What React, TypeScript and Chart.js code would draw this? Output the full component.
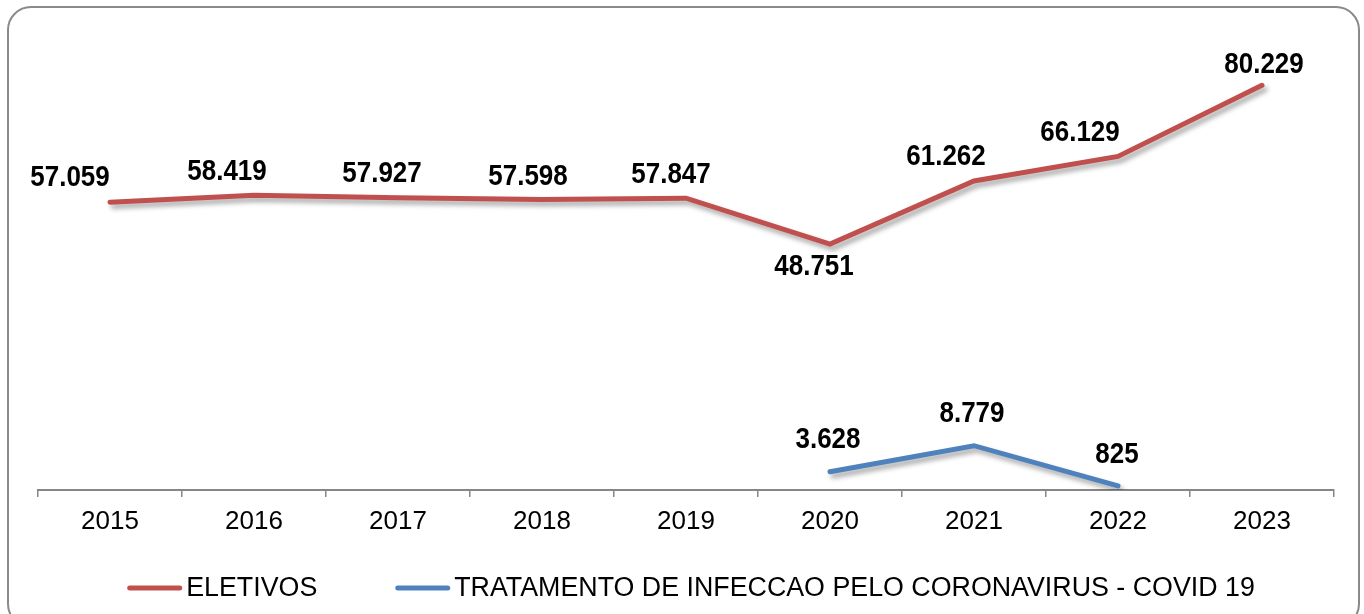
import React, { useEffect, useRef } from "react";
import { Chart, registerables } from "chart.js";

Chart.register(...registerables);

const years = ["2015", "2016", "2017", "2018", "2019", "2020", "2021", "2022", "2023"];
const eletivos = [57059, 58419, 57927, 57598, 57847, 48751, 61262, 66129, 80229];
const covid = [null, null, null, null, null, 3628, 8779, 825, null];
const seriesNames = ["ELETIVOS", "TRATAMENTO DE INFECCAO PELO CORONAVIRUS - COVID 19"];
const seriesColors = ["#C0504D", "#4F81BD"];

const FONT = '"Liberation Sans", Arial, Helvetica, sans-serif';

// label offsets (styling only) relative to each point, in px
const labelOffsets: [number, number][][] = [
  [[-40, -24], [-27, -23], [-16, -24], [-14, -22], [-15, -23], [-16, 23], [-28, -24], [-38, -23], [2, -20]],
  [[0, 0], [0, 0], [0, 0], [0, 0], [0, 0], [-2, -32], [-2, -32], [-1, -31], [0, 0]],
];

function fmt(v: number): string {
  return String(Math.round(v)).replace(/\B(?=(\d{3})+(?!\d))/g, ".");
}

const shadowPlugin = {
  id: "lineShadow",
  beforeDatasetDraw(chart: any) {
    const ctx = chart.ctx;
    ctx.save();
    ctx.shadowColor = "rgba(0,0,0,0.35)";
    ctx.shadowBlur = 5;
    ctx.shadowOffsetX = 3;
    ctx.shadowOffsetY = 4;
  },
  afterDatasetDraw(chart: any) {
    chart.ctx.restore();
  },
};

const labelPlugin = {
  id: "valueLabels",
  afterDatasetsDraw(chart: any) {
    const ctx = chart.ctx;
    chart.data.datasets.forEach((ds: any, di: number) => {
      const meta = chart.getDatasetMeta(di);
      meta.data.forEach((pt: any, i: number) => {
        const v = ds.data[i];
        if (v === null || v === undefined) return;
        const off = labelOffsets[di][i];
        ctx.save();
        ctx.font = `bold 26px ${FONT}`;
        ctx.fillStyle = "#000";
        ctx.textAlign = "center";
        ctx.textBaseline = "middle";
        ctx.translate(pt.x + off[0], pt.y + off[1]);
        ctx.scale(1, 1.1);
        ctx.fillText(fmt(v), 0, 0);
        ctx.restore();
      });
    });
  },
};

const legendPlugin = {
  id: "customLegend",
  afterDraw(chart: any) {
    const ctx = chart.ctx;
    ctx.save();
    ctx.font = `26.8px ${FONT}`;
    const lineLen = 55;
    const textGap = 4;
    const itemGap = 78;
    const widths = seriesNames.map((n) => lineLen + textGap + ctx.measureText(n).width);
    const total = widths.reduce((a, b) => a + b, 0) + itemGap * (widths.length - 1);
    let x = 691 - total / 2;
    const y = 588;
    chart.data.datasets.forEach((ds: any, i: number) => {
      ctx.strokeStyle = ds.borderColor;
      ctx.lineWidth = 5;
      ctx.lineCap = "round";
      ctx.beginPath();
      ctx.moveTo(x + 2.5, y);
      ctx.lineTo(x + lineLen - 2.5, y);
      ctx.stroke();
      ctx.fillStyle = "#000";
      ctx.textAlign = "left";
      ctx.textBaseline = "middle";
      ctx.fillText(ds.label, x + lineLen + textGap, y + 1);
      x += widths[i] + itemGap;
    });
    ctx.restore();
  },
};

export default function App() {
  const ref = useRef<HTMLCanvasElement | null>(null);
  useEffect(() => {
    if (!ref.current) return;
    const chart = new Chart(ref.current, {
      type: "line",
      data: {
        labels: years,
        datasets: [
          {
            label: seriesNames[0],
            data: eletivos,
            borderColor: seriesColors[0],
            backgroundColor: seriesColors[0],
            borderWidth: 5,
            borderCapStyle: "round",
            borderJoinStyle: "miter",
            pointRadius: 0,
            tension: 0,
          },
          {
            label: seriesNames[1],
            data: covid,
            borderColor: seriesColors[1],
            backgroundColor: seriesColors[1],
            borderWidth: 5,
            borderCapStyle: "round",
            borderJoinStyle: "miter",
            pointRadius: 0,
            tension: 0,
            spanGaps: false,
          },
        ],
      },
      options: {
        responsive: false,
        devicePixelRatio: 1,
        animation: false,
        layout: { padding: { top: 36, left: 38, right: 30, bottom: 64 } },
        plugins: {
          legend: { display: false },
          tooltip: { enabled: false },
        },
        scales: {
          x: {
            offset: true,
            grid: {
              display: true,
              drawOnChartArea: false,
              drawTicks: true,
              tickLength: 7,
              offset: true,
              color: "#868686",
              lineWidth: 1.5,
            },
            border: { display: true, color: "#868686", width: 2 },
            ticks: {
              color: "#000",
              font: { size: 26, family: FONT },
              padding: 9,
              maxRotation: 0,
              autoSkip: false,
            },
            afterFit: (s: any) => {
              s.height = 60;
            },
          },
          y: { display: false, min: 0, max: 90000 },
        },
      } as any,
      plugins: [shadowPlugin, labelPlugin, legendPlugin],
    });
    return () => chart.destroy();
  }, []);

  return (
    <div style={{ position: "fixed", left: 0, top: 0, width: 1364, height: 614, background: "#fff", overflow: "hidden" }}>
      <div
        style={{
          position: "absolute",
          left: 7,
          top: 6,
          width: 1353,
          height: 622,
          boxSizing: "border-box",
          border: "2px solid #8a8a8a",
          borderRadius: 24,
        }}
      />
      <canvas ref={ref} width={1364} height={614} style={{ position: "absolute", left: 0, top: 0, width: 1364, height: 614 }} />
    </div>
  );
}
